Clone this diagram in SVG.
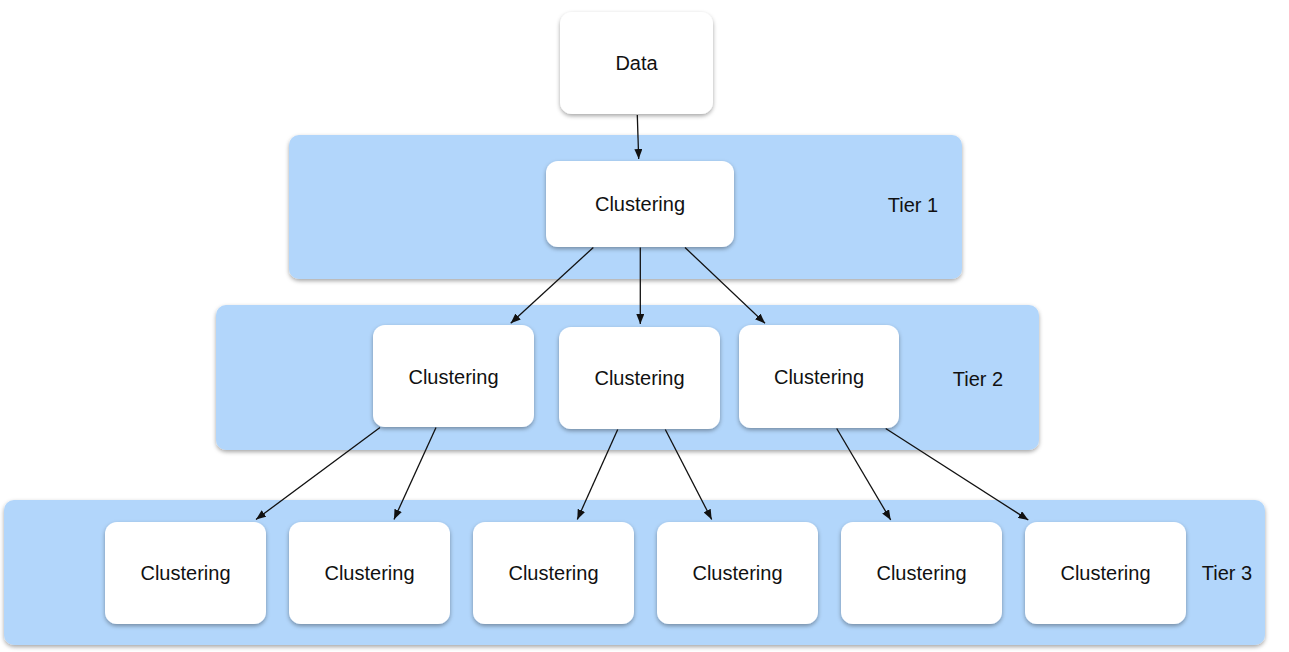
<svg xmlns="http://www.w3.org/2000/svg" width="1289" height="652" viewBox="0 0 1289 652">
<defs>
<style>
.band{fill:#b2d6fb;filter:url(#sh)}
.node{fill:#ffffff;filter:url(#sh)}
.lbl{font-family:"Liberation Sans",Arial,Helvetica,sans-serif;font-size:20px;fill:#111111;text-anchor:middle}
.edge{stroke:#111111;stroke-width:1.3;fill:none;marker-end:url(#arr)}
</style>
<filter id="sh" x="-10%" y="-10%" width="120%" height="130%">
<feDropShadow dx="0" dy="2" stdDeviation="2" flood-color="#000000" flood-opacity="0.35"/>
</filter>
<marker id="arr" viewBox="0 0 10 8" refX="10" refY="4" markerWidth="10" markerHeight="8" markerUnits="userSpaceOnUse" orient="auto">
<path d="M0,0 L10,4 L0,8 Z" fill="#111111"/>
</marker>
</defs>
<rect width="1289" height="652" fill="#ffffff"/>

<g id="tier1">
<rect class="band" x="289" y="135" width="673" height="144" rx="10"/>
<text class="lbl" x="913" y="212">Tier 1</text>
</g>
<g id="tier2">
<rect class="band" x="216" y="305" width="823" height="145" rx="10"/>
<text class="lbl" x="978" y="386">Tier 2</text>
</g>
<g id="tier3">
<rect class="band" x="4" y="500" width="1261" height="145" rx="10"/>
<text class="lbl" x="1227" y="580">Tier 3</text>
</g>

<g id="data">
<rect class="node" x="560" y="12" width="153" height="102" rx="12"/>
<text class="lbl" x="636.5" y="70">Data</text>
</g>
<g id="c1">
<rect class="node" x="546" y="161" width="188" height="86" rx="12"/>
<text class="lbl" x="640" y="211">Clustering</text>
</g>
<g id="c2a">
<rect class="node" x="373" y="325" width="161" height="102" rx="12"/>
<text class="lbl" x="453.5" y="384">Clustering</text>
</g>
<g id="c2b">
<rect class="node" x="559" y="327" width="161" height="102" rx="12"/>
<text class="lbl" x="639.5" y="385">Clustering</text>
</g>
<g id="c2c">
<rect class="node" x="739" y="325" width="160" height="103" rx="12"/>
<text class="lbl" x="819" y="384">Clustering</text>
</g>
<g id="c3a">
<rect class="node" x="105" y="522" width="161" height="102" rx="12"/>
<text class="lbl" x="185.5" y="580">Clustering</text>
</g>
<g id="c3b">
<rect class="node" x="289" y="522" width="161" height="102" rx="12"/>
<text class="lbl" x="369.5" y="580">Clustering</text>
</g>
<g id="c3c">
<rect class="node" x="473" y="522" width="161" height="102" rx="12"/>
<text class="lbl" x="553.5" y="580">Clustering</text>
</g>
<g id="c3d">
<rect class="node" x="657" y="522" width="161" height="102" rx="12"/>
<text class="lbl" x="737.5" y="580">Clustering</text>
</g>
<g id="c3e">
<rect class="node" x="841" y="522" width="161" height="102" rx="12"/>
<text class="lbl" x="921.5" y="580">Clustering</text>
</g>
<g id="c3f">
<rect class="node" x="1025" y="522" width="161" height="102" rx="12"/>
<text class="lbl" x="1105.5" y="580">Clustering</text>
</g>

<g id="connectors">
<line class="edge" x1="637.3" y1="115" x2="638.7" y2="159"/>
<line class="edge" x1="593.3" y1="247.5" x2="510.7" y2="323.3"/>
<line class="edge" x1="640.3" y1="247.5" x2="640.3" y2="324"/>
<line class="edge" x1="685" y1="247.5" x2="765" y2="323.3"/>
<line class="edge" x1="380" y1="427.5" x2="256" y2="519.5"/>
<line class="edge" x1="436" y1="427.5" x2="394" y2="519.5"/>
<line class="edge" x1="617.7" y1="429.5" x2="577.3" y2="519.5"/>
<line class="edge" x1="665.3" y1="429.5" x2="711.7" y2="519.5"/>
<line class="edge" x1="836.7" y1="428.5" x2="890.7" y2="520"/>
<line class="edge" x1="885.7" y1="428.5" x2="1028.3" y2="520"/>
</g>
</svg>
